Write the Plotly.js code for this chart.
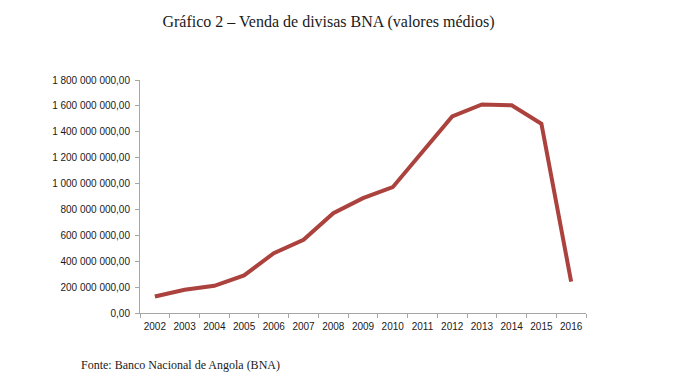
<!DOCTYPE html>
<html>
<head>
<meta charset="utf-8">
<script src="https://cdn.plot.ly/plotly-3.0.1.min.js"></script>
<style>html,body{margin:0;padding:0;background:#fff;}#chart{width:699px;height:392px;}</style>
</head>
<body>
<div id="chart"></div>
<script>
const years = ['2002','2003','2004','2005','2006','2007','2008','2009','2010','2011','2012','2013','2014','2015','2016'];
const vendas = [127e6, 179e6, 210e6, 290e6, 462e6, 566e6, 771e6, 887e6, 972e6, 1247e6, 1518e6, 1611e6, 1605e6, 1462e6, 243e6];
const titleText = 'Gráfico 2 – Venda de divisas BNA (valores médios)';
const sourceText = 'Fonte: Banco Nacional de Angola (BNA)';

const trace = {
  x: years, y: vendas, type: 'scatter', mode: 'lines',
  line: {color: '#ab423d', width: 4},
  hoverinfo: 'skip'
};
const layout = {
  width: 699, height: 392,
  paper_bgcolor: '#fff', plot_bgcolor: '#fff',
  separators: ', ',
  margin: {l: 140, r: 113, t: 80, b: 79},
  showlegend: false,
  title: {text: titleText, font: {family: 'Liberation Serif, DejaVu Serif, serif', size: 16, color: '#1a1a1a'}, x: 0.47, xanchor: 'center', y: 0.945, yanchor: 'middle'},
  xaxis: {
    type: 'category', tickson: 'boundaries', range: [-0.5, 14.5],
    showgrid: false, zeroline: false,
    showline: true, linecolor: '#a6a6a6', linewidth: 1,
    ticks: 'outside', ticklen: 4, tickcolor: '#a6a6a6', ticklabelstandoff: 4,
    tickangle: 0,
    tickfont: {family: 'Liberation Sans, Arial, sans-serif', size: 10, color: '#1a1a1a'},
    fixedrange: true
  },
  yaxis: {
    range: [0, 1.8e9], dtick: 2e8, tick0: 0, tickformat: ',.2f',
    showgrid: false, zeroline: false,
    showline: true, linecolor: '#a6a6a6', linewidth: 1,
    ticks: 'outside', ticklen: 4, tickcolor: '#a6a6a6', ticklabelstandoff: 3,
    tickfont: {family: 'Liberation Sans, Arial, sans-serif', size: 10, color: '#1a1a1a'},
    fixedrange: true
  },
  annotations: [{
    text: sourceText, xref: 'paper', yref: 'paper',
    x: -140/446 + 79/446, y: -52/233, xanchor: 'left', yanchor: 'middle', showarrow: false,
    font: {family: 'Liberation Serif, DejaVu Serif, serif', size: 12, color: '#1a1a1a'}
  }]
};
Plotly.newPlot('chart', [trace], layout, {displayModeBar: false, staticPlot: true});
</script>
</body>
</html>
